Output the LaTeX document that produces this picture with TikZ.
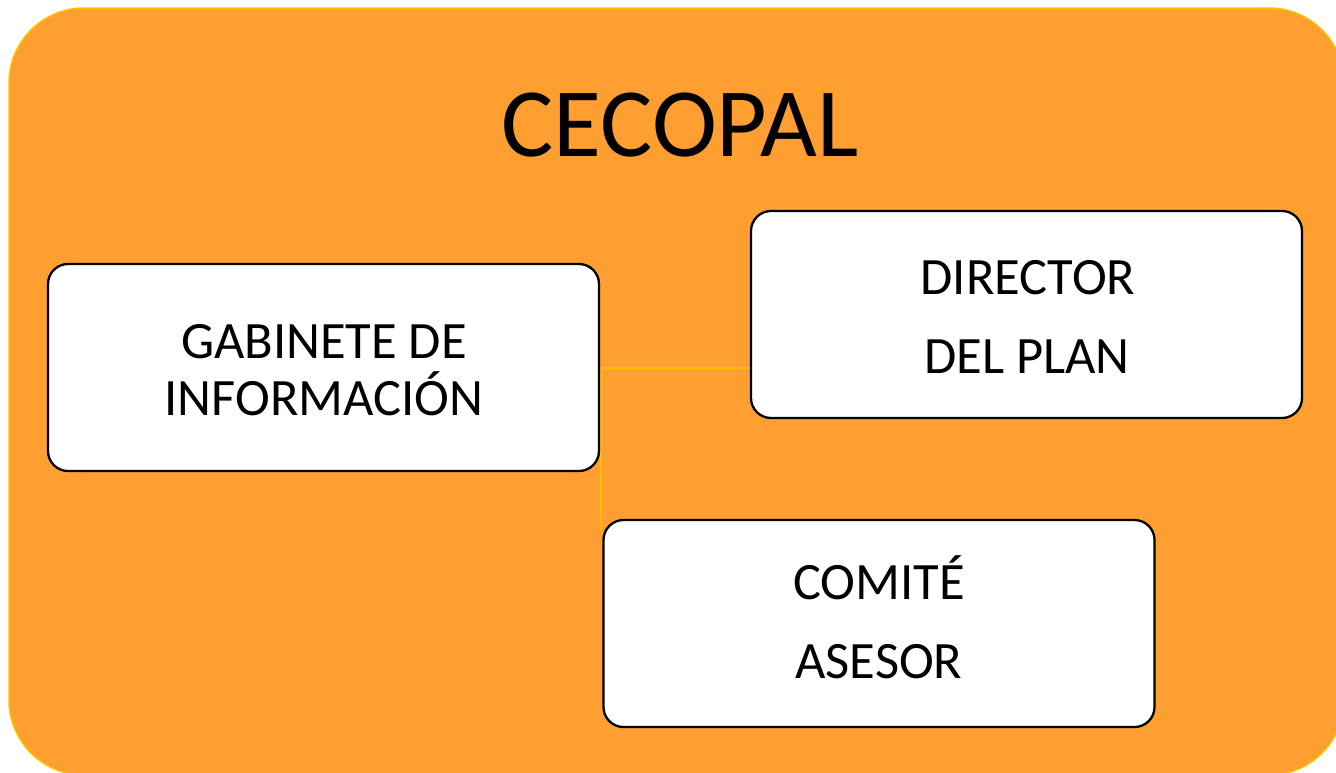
\documentclass[tikz,border=0pt]{standalone}
\usepackage{fontspec}
\setmainfont{Carlito}
\definecolor{bgorange}{RGB}{255,159,49}
\definecolor{edgeyellow}{RGB}{255,192,0}
\begin{document}
\begin{tikzpicture}[x=1pt,y=-1pt,
  box/.style={draw=black,line width=2.3pt,fill=white,rounded corners=20pt,
    inner sep=0pt,minimum width=551pt,minimum height=207pt},
  lbl/.style={anchor=base,font=\fontsize{52.5}{57}\selectfont,inner sep=0pt},
  link/.style={draw=edgeyellow,line width=1.5pt}]
\useasboundingbox (0,0) rectangle (1336,772);
\begin{scope}
  \clip (0,0) rectangle (1336,772);
  \draw[fill=bgorange,draw=edgeyellow,line width=1.5pt,rounded corners=75pt]
    (9,8) rectangle (1344,775);
\end{scope}
\node[anchor=base,inner sep=0pt,font=\fontsize{98}{105}\selectfont] (title) at (680,156) {CECOPAL};
% connectors
\coordinate (j) at (601,368);
\coordinate (jend) at (601,530);
\coordinate (dirl) at (750,368);
\draw[link] (dirl) -- (j) -- (jend);
% boxes
\node[box] (gab) at (323.5,367.5) {};
\node[box] (dir) at (1026.5,314.5) {};
\node[box] (com) at (879,623.5) {};
% labels
\node[lbl] (gab1) at (324,358) {GABINETE DE};
\node[lbl] (gab2) at (324,415) {INFORMACIÓN};
\node[lbl] (dir1) at (1028,294) {DIRECTOR};
\node[lbl] (dir2) at (1027,373) {DEL PLAN};
\node[lbl] (com1) at (879,599) {COMITÉ};
\node[lbl] (com2) at (879,678) {ASESOR};
\end{tikzpicture}
\end{document}
